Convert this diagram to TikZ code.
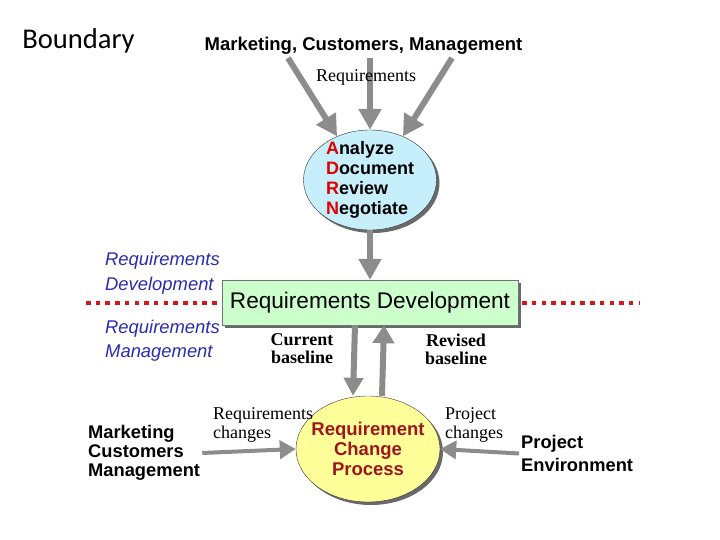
\documentclass[tikz,border=0pt]{standalone}
\usepackage{fontspec}
\setmainfont{Liberation Serif}
\setsansfont{Liberation Sans}
\newfontfamily\bndfont{Carlito}
\usetikzlibrary{shapes.geometric,arrows.meta,shadows}

\definecolor{arrowgray}{HTML}{8C8C8C}
\definecolor{adrnblue}{HTML}{C6EFFB}
\definecolor{adrnred}{HTML}{E00000}
\definecolor{rdgreen}{HTML}{CCFFCC}
\definecolor{chgyellow}{HTML}{FFFF99}
\definecolor{labelblue}{HTML}{2B2BB0}
\definecolor{procred}{HTML}{A0141E}
\definecolor{dotred}{HTML}{D01818}

\tikzset{
  bigarrow/.style={draw=arrowgray, line width=6pt, -{Triangle[length=21pt,width=22pt]}},
  sidearrow/.style={draw=arrowgray, line width=4pt, -{Triangle[length=16pt,width=18pt]}},
  dotline/.style={draw=dotred, line width=4pt, dash pattern=on 4.5pt off 5.2pt},
  sidetext/.style={font=\sffamily\bfseries\fontsize{18.3}{19}\selectfont, align=left, inner sep=2pt},
  bluetext/.style={font=\sffamily\itshape\fontsize{18.4}{25}\selectfont, text=labelblue, align=left, inner sep=2pt},
  serifbold/.style={font=\rmfamily\bfseries\fontsize{18}{18}\selectfont, align=center, inner sep=2pt},
  seriftext/.style={font=\rmfamily\fontsize{18}{19}\selectfont, align=left, inner sep=2pt},
  shade3/.style={drop shadow={shadow xshift=3pt, shadow yshift=-3pt, fill=black!65, opacity=0.9}}
}

\begin{document}
\begin{tikzpicture}[x=1pt,y=-1pt]
\useasboundingbox (0,0) rectangle (720,540);

\node[font=\bndfont\fontsize{28.6}{30}\selectfont] (bnd) at (78.5,41) {Boundary};
\node[font=\sffamily\bfseries\fontsize{18.5}{20}\selectfont] (src) at (363.5,46) {Marketing, Customers, Management};

% the two processes and the box between them
\node[ellipse, draw=black!80, fill=adrnblue, minimum width=133pt, minimum height=100pt, shade3] (adrn) at (370,180) {};
\node[font=\sffamily\bfseries\fontsize{18}{20}\selectfont, align=left] (adrntext) at (adrn.center) {\textcolor{adrnred}{A}nalyze\\\textcolor{adrnred}{D}ocument\\\textcolor{adrnred}{R}eview\\\textcolor{adrnred}{N}egotiate};

\node[rectangle, draw=black!55, fill=rdgreen, minimum width=296pt, minimum height=45pt, shade3, font=\sffamily\fontsize{22.6}{24}\selectfont] (rd) at (370,302.5) {Requirements Development};

\node[ellipse, draw=black!80, fill=chgyellow, minimum width=144pt, minimum height=106pt, shade3] (chg) at (368,449) {};
\node[font=\sffamily\bfseries\fontsize{18.5}{20}\selectfont, text=procred, align=center] (chgtext) at (chg.center) {Requirement\\Change\\Process};

\node[sidetext, anchor=west] (mkt) at (86,453) {Marketing\\Customers\\Management};
\node[sidetext, anchor=west, font=\sffamily\bfseries\fontsize{18.3}{23}\selectfont] (env) at (519,453.5) {Project\\Environment};

% arrows
\coordinate (s1) at (288,58);
\coordinate (s2) at (370,58);
\coordinate (s3) at (452,58);
\draw[bigarrow] (s1) -- (adrn.127);
\draw[bigarrow] (s2) -- (adrn.north);
\draw[bigarrow] (s3) -- (adrn.53);
\draw[bigarrow] (adrn.south) -- (rd.north);
\draw[bigarrow, -{Triangle[length=18pt,width=19pt]}] ([xshift=-15pt]rd.south) -- ([xshift=-15pt]chg.north);
\draw[bigarrow, -{Triangle[length=18pt,width=21pt]}] ([xshift=14pt]chg.north) -- ([xshift=14pt]rd.south);
\draw[sidearrow] (mkt.east) -- (chg.west);
\draw[sidearrow] (env.west) -- (chg.east);

\node[font=\rmfamily\fontsize{18}{20}\selectfont] (req) at (366,77) {Requirements};

% boundary line
\coordinate (dl) at (86,302.5);
\coordinate (dr) at (640,302.5);
\draw[dotline] (dl) -- ([xshift=-4pt]rd.west);
\draw[dotline] ([xshift=4pt]rd.east) -- (dr);

\node[bluetext, anchor=north west] (rdlab) at (103,249.5) {Requirements\\Development};
\node[bluetext, anchor=north west, font=\sffamily\itshape\fontsize{18.4}{24}\selectfont] (rmlab) at (103,317.5) {Requirements\\Management};

\node[serifbold, anchor=north] (cur) at (302,331.5) {Current\\baseline};
\node[serifbold, anchor=north] (rev) at (456,331.5) {Revised\\baseline};
\node[seriftext, anchor=north west] (rqc) at (211,405.5) {Requirements\\changes};
\node[seriftext, anchor=north west] (pjc) at (443,405.5) {Project\\changes};

\end{tikzpicture}
\end{document}
